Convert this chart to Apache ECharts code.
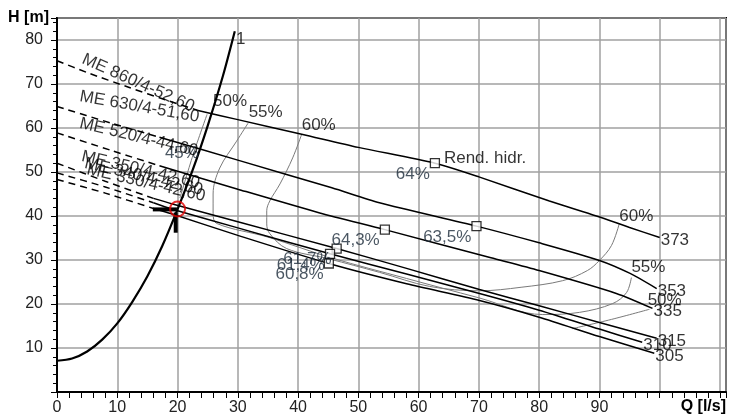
<!DOCTYPE html>
<html><head><meta charset="utf-8">
<script src="https://cdn.jsdelivr.net/npm/echarts@6/dist/echarts.min.js"></script>
<style>html,body{margin:0;padding:0;background:#fff}#c{width:730px;height:418px}</style>
</head><body><div id="c"></div>
<script>
// ---- tick labels ----
const xTickLabels = ['0','10','20','30','40','50','60','70','80','90'];
const yTickLabels = ['10','20','30','40','50','60','70','80'];

// ---- pump curves (Q [l/s], H [m]) ----
const pumpNames = ['ME 860/4-52,60','ME 630/4-51,60','ME 520/4-44,60','ME 350/4-42,60','ME 340/4-42,60','ME 330/4-42,60'];
const impellers = ['373','353','335','315','310','305'];

const dashed373 = [[0,75.3],[5,72.6],[12,69.2],[18,66.4],[23.4,64.0]];
const solid373  = [[23.4,64.0],[30,61.9],[40.6,58.6],[50,55.6],[62.7,52.0],[70,48.9],[81.7,43.4],[89.5,40.0],[95,37.4],[100,35.1]];

const dashed353 = [[0,64.9],[9,61.1],[17,57.9]];
const solid353  = [[17,57.9],[30,52.7],[45.6,46.4],[53.5,43.0],[69.6,37.7],[80,33.9],[90,29.9],[95,27.0],[99.5,23.5]];

const dashed335 = [[0,58.9],[9,54.9],[17,51.4]];
const solid335  = [[17,51.4],[30,46.1],[43.6,40.7],[54.4,36.9],[72,30.5],[80,27.6],[92.8,22.4],[98.8,19.0]];

const dashed315 = [[0,52.0],[8,47.9],[16,44.0]];
const solid315  = [[16,44.0],[19,42.8],[30,38.7],[46.4,32.6],[58,28.1],[70.1,23.3],[80,19.6],[90,15.8],[99.5,12.2]];

const dashed310 = [[0,49.8],[8,46.6],[16,43.0]];
const solid310  = [[16,43.0],[19,41.6],[30,37.3],[45.3,31.4],[58,26.8],[70.1,22.4],[80,18.6],[90,14.3],[97.1,11.3]];

const dashed305 = [[0,48.3],[8,45.2],[16,41.7]];
const solid305  = [[16,41.7],[19,40.5],[30,35.6],[45.1,29.2],[58,24.6],[70.1,20.8],[80,17.0],[90,12.6],[99.1,8.8]];

// ---- system curve "1" ----
const systemCurve = [[0,7.1],[2.5,7.6],[5,9.2],[7.5,11.9],[10,15.6],[12.5,20.5],[15,26.3],[17.5,33.3],[20,41.5],[22.5,50.4],[25,60.5],[27.5,71.7],[29.5,82]];

// ---- efficiency contours ----
const eff60 = [[40.6,58.6],[39.1,53.2],[37.0,47.3],[35.3,43.4],[34.8,41.2],[34.8,38.2],[35.3,36.0],[38.1,32.6],[45,30.3],[53.5,27.2],[61.8,24.0],[70.1,23.0],[77,23.8],[83.9,25.3],[88,27.6],[90,29.9],[92,33.3],[93.3,38.3]];
const eff55 = [[31.7,61.1],[29.8,57.0],[27.0,50.9],[25.9,45.0],[25.9,40.5],[26.5,38.3],[35,35.2],[45.5,30.5],[58,25.8],[70,21.4],[80.6,17.6],[86.7,18.1],[92.2,20.1],[94.5,22.6],[95.3,26.0]];
const eff50Left  = [[24.9,63.1],[22.6,54.0],[20.4,44.1]];
const eff50Right = [[98.3,18.8],[92,16.5],[85.5,14.4]];

// ---- best efficiency points ----
const bepPoints = [[62.7,52.0],[69.6,37.7],[54.4,36.9],[46.4,32.6],[45.3,31.4],[45.1,29.2]];
const bepLabels = ['64%','63,5%','64,3%','61,7%','61,4%','60,8%'];

// ---- text labels ----
const effLabelPts   = [[25.9,66.1],[31.8,63.6],[40.6,60.6],[17.9,54.3],[93.3,40.0],[95.3,28.3],[98.0,20.8]];
const effLabelTexts = ['50%','55%','60%','45%','60%','55%','50%'];
const nameAnchors = [[4.3,75.8],[3.8,67.2],[3.8,61.1],[4.1,53.6],[4.6,52.0],[5.0,50.6]];
const nameAngles  = [24,10,13.5,13,13,13];
const dutyPoint = [20.0,41.6];
const dutyHoriz = [[15.9,41.5],[19.9,41.5]];
const dutyVert  = [[19.7,40.8],[19.7,36.2]];

const FONT = 'Liberation Sans, Arial, sans-serif';
const LFS = 17;
const dashed = [dashed373,dashed353,dashed335,dashed315,dashed310,dashed305];
const solid  = [solid373,solid353,solid335,solid315,solid310,solid305];

const series = [];
function line(data, opts) {
  return Object.assign({type:'line', data, symbol:'none', smooth:0.25, silent:true,
    lineStyle:{color:'#000', width:1.5}, z:3, animation:false}, opts||{});
}
[eff60, eff55, eff50Left, eff50Right].forEach(d => series.push(line(d, {smooth:0.35, lineStyle:{color:'#7a7a7a', width:1}, z:2})));
dashed.forEach(d => series.push(line(d, {lineStyle:{color:'#000', width:1.5, type:[7,5]}})));
solid.forEach(d => series.push(line(d, {})));
series.push(line(systemCurve, {lineStyle:{color:'#000', width:2.2}, smooth:0.3}));
series.push(line(dutyHoriz, {lineStyle:{color:'#000', width:4}, smooth:false}));
series.push(line(dutyVert, {lineStyle:{color:'#000', width:4}, smooth:false}));

// BEP markers
series.push({type:'scatter', symbol:'rect', symbolSize:9, z:6, silent:true,
  itemStyle:{color:'#fff', borderColor:'#000', borderWidth:1.3},
  data: bepPoints.map((p,i)=>({value:p, label:{show:true, formatter:bepLabels[i], position:'left', distance:0, offset:[0,11], color:'#1c2a3a', fontSize:LFS, fontFamily:FONT}}))
});
// "Rend. hidr."
series.push({type:'scatter', symbolSize:0, z:7, silent:true, data:[{value:bepPoints[0], label:{show:true, formatter:'Rend. hidr.', position:'right', distance:9, offset:[0,-5], color:'#000', fontSize:LFS, fontFamily:FONT}}]});
// duty point circle
series.push({type:'scatter', symbol:'circle', symbolSize:15, z:8, silent:true,
  itemStyle:{color:'rgba(0,0,0,0)', borderColor:'#e00000', borderWidth:2}, data:[dutyPoint]});
// impeller end labels
series.push({type:'scatter', symbolSize:0, z:7, silent:true,
  data: solid.map((d,i)=>({value:d[d.length-1], label:{show:true, formatter:impellers[i], position:'right', distance:1, offset:[0,3], color:'#000', fontSize:LFS, fontFamily:FONT}}))});
// efficiency labels and system label
series.push({type:'scatter', symbolSize:0, z:7, silent:true,
  data: effLabelPts.map((p,i)=>({value:p, label:{show:true, formatter:effLabelTexts[i], position:'right', distance:0, color: effLabelTexts[i]==='45%'?'#1c2a3a':'#000', fontSize:LFS, fontFamily:FONT}}))
    .concat([{value:[29.7,80.1], label:{show:true, formatter:'1', position:'right', distance:0, color:'#000', fontSize:LFS, fontFamily:FONT}}])});
// pump name labels
series.push({type:'scatter', symbolSize:0, z:7, silent:true,
  data: nameAnchors.map((p,i)=>({value:p, label:{show:true, formatter:pumpNames[i], position:'right', distance:0, rotate:-nameAngles[i], color:'#000', fontSize:LFS, fontFamily:FONT}}))});

const chart = echarts.init(document.getElementById('c'), null, {renderer:'canvas'});
chart.setOption({
  animation:false,
  backgroundColor:'#fff',
  grid:{left:57, right:4, top:18, bottom:26, show:true, borderColor:'#000', borderWidth:2, backgroundColor:'transparent'},
  xAxis:{type:'value', min:0, max:111, interval:10,
    name:'Q [l/s]', nameLocation:'end', nameGap:0,
    nameTextStyle:{fontFamily:FONT, fontSize:16, fontWeight:'bold', color:'#000', align:'right', verticalAlign:'top', padding:[7,0,0,0]},
    axisLine:{show:true, lineStyle:{color:'#000', width:2}},
    axisTick:{show:true, length:6, lineStyle:{color:'#000', width:1}},
    minorTick:{show:true, splitNumber:5, length:6, lineStyle:{color:'#000', width:1}},
    splitLine:{show:true, lineStyle:{color:'#a0a0a0', width:1.5}},
    axisLabel:{margin:8, fontSize:16, fontFamily:FONT, color:'#222', formatter:v => xTickLabels.indexOf(String(v))>=0 ? String(v) : ''}
  },
  yAxis:{type:'value', min:0, max:85, interval:10,
    name:'H [m]', nameLocation:'end', nameGap:0,
    nameTextStyle:{fontFamily:FONT, fontSize:16, fontWeight:'bold', color:'#000', align:'right', verticalAlign:'middle', padding:[0,8,0,0]},
    axisLine:{show:true, lineStyle:{color:'#000', width:2}},
    axisTick:{show:true, length:6, lineStyle:{color:'#000', width:1}},
    minorTick:{show:true, splitNumber:5, length:4, lineStyle:{color:'#000', width:1}},
    splitLine:{show:true, lineStyle:{color:'#a0a0a0', width:1.5}},
    axisLabel:{margin:14, fontSize:16, fontFamily:FONT, color:'#222', formatter:v => yTickLabels.indexOf(String(v))>=0 ? String(v) : ''}
  },
  series
});
</script></body></html>
